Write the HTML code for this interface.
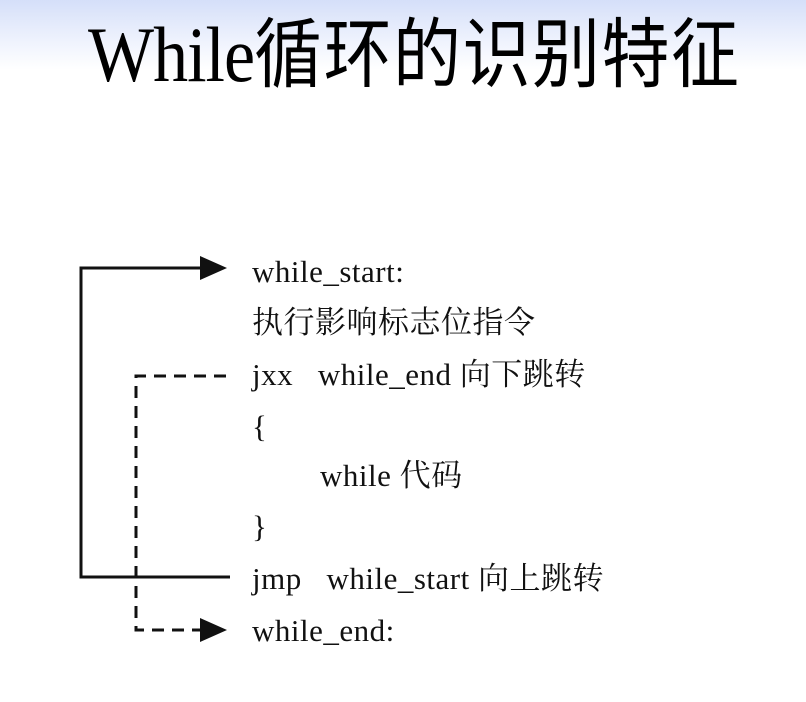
<!DOCTYPE html>
<html><head><meta charset="utf-8"><style>
html,body{margin:0;padding:0}
body{width:806px;height:702px;position:relative;overflow:hidden;background:linear-gradient(to bottom,#d5dff9 0px,#eef2fd 40px,#ffffff 70px,#ffffff 100%)}
.t{position:absolute;left:88px;top:4px;font-size:70px;white-space:nowrap;line-height:90px;color:#000;transform:scaleY(1.12);transform-origin:0 50%}
.t .w{font-family:"Liberation Serif",serif;letter-spacing:-1px}
.t .c{font-family:"Noto Sans CJK SC",sans-serif;font-size:68px;letter-spacing:1.5px}
.l{position:absolute;left:252px;font-family:"Liberation Serif","Noto Serif CJK SC",serif;font-size:31px;white-space:nowrap;line-height:34px;color:#111;letter-spacing:0.5px}
</style></head><body>
<div class="t"><span class="w">While</span><span class="c">循环的识别特征</span></div>
<svg width="806" height="702" style="position:absolute;left:0;top:0">
<polyline points="230,577 81,577 81,268 202,268" fill="none" stroke="#111" stroke-width="3"/>
<polygon points="200,256 227,268 200,280" fill="#111"/>
<polyline points="226,376 136,376 136,630 202,630" fill="none" stroke="#111" stroke-width="3" stroke-dasharray="12,8"/>
<polygon points="200,618 227,630 200,642" fill="#111"/>
</svg>
<div class="l" style="top:255px">while_start:</div>
<div class="l" style="top:306px">执行影响标志位指令</div>
<div class="l" style="top:358px">jxx&nbsp;&nbsp;&nbsp;while_end 向下跳转</div>
<div class="l" style="top:410px">{</div>
<div class="l" style="top:459px;left:320px">while 代码</div>
<div class="l" style="top:510px">}</div>
<div class="l" style="top:562px">jmp&nbsp;&nbsp;&nbsp;while_start 向上跳转</div>
<div class="l" style="top:614px">while_end:</div>
</body></html>
